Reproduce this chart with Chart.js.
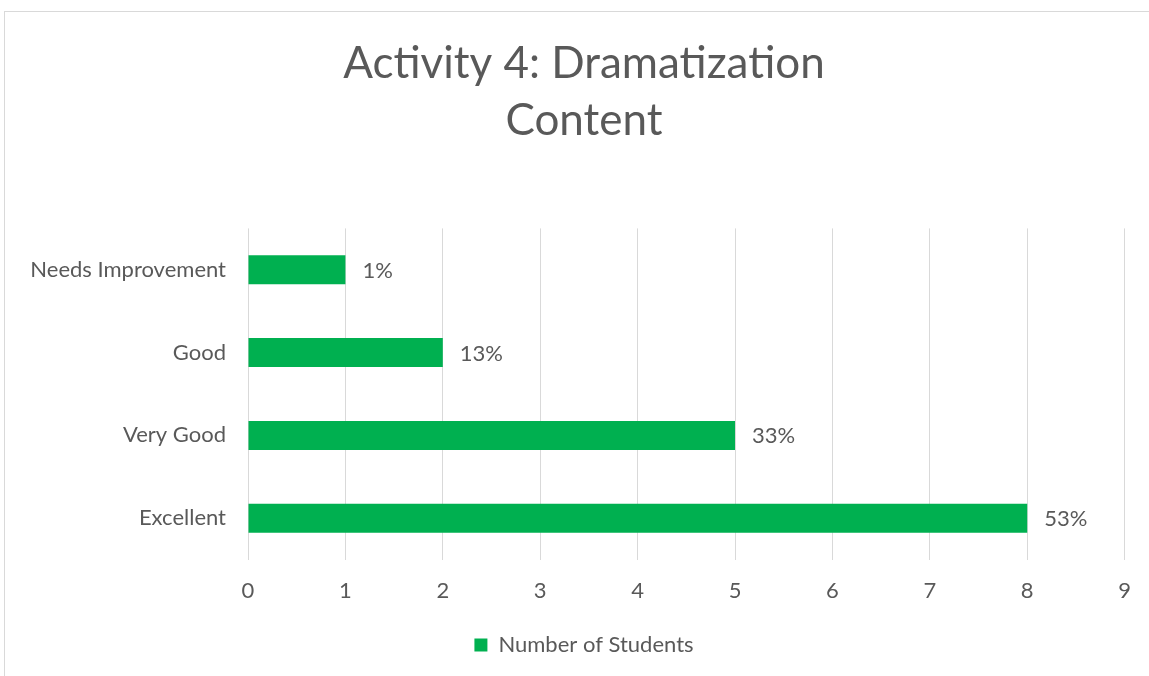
<!DOCTYPE html>
<html>
<head>
<meta charset="utf-8">
<script src="https://cdn.jsdelivr.net/npm/chart.js@4/dist/chart.umd.min.js"></script>
<style>
  html, body { margin: 0; padding: 0; background: #fff; }
  #wrap { position: relative; width: 1149px; height: 676px; overflow: hidden; }
  #frame { position: absolute; left: 4px; top: 11px; width: 1200px; height: 700px; border: 1px solid #d9d9d9; box-sizing: border-box; }
  #chart { position: absolute; left: 0; top: 0; }
</style>
</head>
<body>
<div id="wrap">
  <div id="frame"></div>
  <canvas id="chart" width="1149" height="676"></canvas>
</div>
<script>
const categories = ['Needs Improvement', 'Good', 'Very Good', 'Excellent']
const students = [1, 2, 5, 8]
const percentLabels = ['1%', '13%', '33%', '53%']
const xTicks = [0, 1, 2, 3, 4, 5, 6, 7, 8, 9]

const textColor = '#595959'
const green = '#00B050'
const fontFamily = 'Lato, "Open Sans", sans-serif'

// percent labels at the end of each bar
const barLabels = {
    id: 'barLabels',
    afterDatasetsDraw(chart) {
        const ctx = chart.ctx
        const meta = chart.getDatasetMeta(0)
        ctx.save()
        ctx.fillStyle = textColor
        ctx.font = '22px ' + fontFamily
        ctx.textAlign = 'left'
        ctx.textBaseline = 'middle'
        meta.data.forEach((bar, i) => {
            ctx.fillText(percentLabels[i], bar.x + 17, bar.y + 1)
        })
        ctx.restore()
    }
}

const ctx = document.getElementById('chart')
new Chart(ctx, {
    type: 'bar',
    data: {
        labels: categories,
        datasets: [{
            label: 'Number of Students',
            data: students,
            backgroundColor: green,
            barPercentage: 0.7,
            categoryPercentage: 0.5
        }]
    },
    options: {
        indexAxis: 'y',
        responsive: false,
        animation: false,
        layout: { padding: { left: 20, right: 1, top: 35, bottom: 10 } },
        scales: {
            x: {
                min: 0,
                max: 9,
                afterBuildTicks: axis => { axis.ticks = xTicks.map(v => ({ value: v })) },
                grid: { color: '#d9d9d9', drawTicks: false, lineWidth: 1 },
                border: { display: false },
                ticks: { color: textColor, font: { family: fontFamily, size: 22 }, padding: 18 }
            },
            y: {
                afterFit: axis => { axis.width = 228 },
                grid: { display: false },
                border: { display: false },
                ticks: { color: textColor, font: { family: fontFamily, size: 22 }, padding: 14 }
            },
            // empty spacer on the right so the title and legend sit off-centre like the original
            spacer: {
                type: 'linear',
                position: 'right',
                afterFit: axis => { axis.width = 23 },
                grid: { display: false },
                border: { display: false },
                ticks: { display: false }
            }
        },
        plugins: {
            title: {
                display: true,
                text: ['Activity 4: Dramatization', 'Content'],
                color: textColor,
                font: { family: fontFamily, size: 44, weight: 'normal', lineHeight: 1.3 },
                padding: { top: 0, bottom: 79 }
            },
            legend: {
                position: 'bottom',
                labels: {
                    color: textColor,
                    font: { family: fontFamily, size: 22 },
                    boxWidth: 13,
                    boxHeight: 13,
                    padding: 12
                }
            },
            tooltip: { enabled: false }
        }
    },
    plugins: [barLabels]
})
</script>
</body>
</html>
